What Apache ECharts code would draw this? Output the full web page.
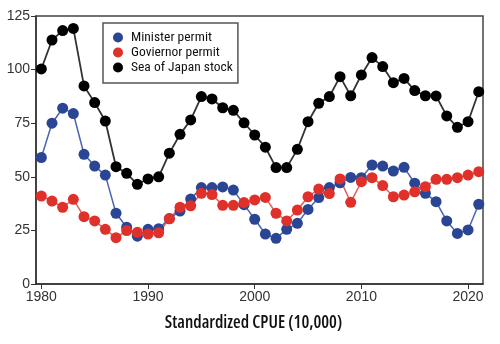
<!DOCTYPE html>
<html>
<head>
<meta charset="utf-8">
<script src="https://cdn.jsdelivr.net/npm/echarts@6/dist/echarts.min.js"></script>
<style>html,body{margin:0;padding:0;background:#fff;}#c{width:500px;height:344px;}</style>
</head>
<body>
<div id="c"></div>
<script>
const years = [];
for (let y = 1980; y <= 2021; y++) years.push(y);
const seriesNames = ['Minister permit', 'Goviernor permit', 'Sea of Japan stock'];
const minister = [59, 75, 82, 79.5, 60.5, 55, 50.8, 33, 26.5, 22.3, 25.5, 25.8, 30.5, 34, 39.6, 45, 45, 45.3, 43.8, 37,
  30.2, 23.3, 21.3, 25.5, 28.3, 34.8, 40.3, 45, 47.2, 49.7, 49.6, 55.5, 55, 52.7, 54.4, 47, 42.3, 38.4, 29.4, 23.6, 25.2, 37.2];
const governor = [41, 38.7, 35.8, 39.5, 31.4, 29.4, 25.5, 21.6, 24.9, 24.1, 23.3, 23.9, 30.4, 35.8, 36.5, 42.3, 41.7, 36.7, 36.7, 38,
  39.2, 40.4, 33, 29.4, 34.5, 40.7, 44.3, 42.2, 49, 38.1, 47.7, 49.6, 45.9, 40.7, 41.5, 43, 45.4, 48.8, 48.8, 49.6, 50.8, 52.4];
const seaOfJapan = [100.3, 113.8, 118.2, 119.2, 92.4, 84.6, 76, 54.7, 51.6, 46.5, 49, 50, 61, 69.8, 76.5, 87.4, 86.3, 82.2, 81, 75.2,
  69.5, 63.8, 54.3, 54.3, 62.8, 75.7, 84.3, 87.4, 96.7, 87.8, 97.5, 105.6, 101.4, 93.9, 95.9, 90.2, 87.8, 87.7, 78.4, 73.1, 75.7, 89.7];
const xTicks = [1980, 1990, 2000, 2010, 2020];
const yTicks = [0, 25, 50, 75, 100, 125];
const xTitle = 'Standardized CPUE (10,000)';

const pair = arr => arr.map((v, i) => [years[i], v]);
const chart = echarts.init(document.getElementById('c'), null, {renderer: 'canvas'});
const mk = (name, data, dot, line, lw, size) => ({
  name, type: 'line', data: pair(data), symbol: 'circle', symbolSize: size,
  itemStyle: {color: dot}, lineStyle: {color: line, width: lw},
  emphasis: {disabled: true}, animation: false
});
chart.setOption({
  animation: false,
  grid: {left: 36, right: 17, top: 16, bottom: 60, show: true, borderColor: '#444', borderWidth: 1.5, backgroundColor: 'transparent'},
  legend: {
    orient: 'vertical', left: 103, top: 23,
    data: seriesNames.map(n => ({name: n, icon: 'circle'})),
    itemWidth: 10, itemHeight: 10, itemGap: 0,
    padding: [7, 5, 8, 10],
    borderColor: '#555', borderWidth: 1.5, backgroundColor: '#fff',
    textStyle: {fontFamily: "'Roboto'", fontWeight: 'normal extra-condensed', fontSize: 13.5, lineHeight: 15, color: '#111', padding: [0, 0, 0, 3]},
    selectedMode: false
  },
  xAxis: {
    type: 'value', min: 1979.5, max: 2021.4,
    name: xTitle, nameLocation: 'middle', nameGap: 30,
    nameTextStyle: {fontFamily: "'Open Sans'", fontSize: 17.5, color: '#111', fontWeight: '600 extra-condensed', padding: [0, 12, 0, 0]},
    axisLine: {show: true, lineStyle: {color: '#333', width: 1.5}},
    axisTick: {show: true, customValues: xTicks, length: 5, lineStyle: {color: '#333'}},
    axisLabel: {customValues: xTicks, formatter: v => String(v), fontSize: 14, color: '#333', margin: 6, fontFamily: "'Liberation Sans', Arial, sans-serif"},
    splitLine: {show: false}
  },
  yAxis: {
    type: 'value', min: 0, max: 125, interval: 25,
    axisLine: {show: true, lineStyle: {color: '#333', width: 1.5}},
    axisTick: {show: true, length: 5, lineStyle: {color: '#333'}},
    axisLabel: {fontSize: 14, color: '#333', margin: 6, fontFamily: "'Liberation Sans', Arial, sans-serif"},
    splitLine: {show: false}
  },
  series: [
    mk(seriesNames[0], minister, '#2b4595', '#4a64b0', 1.5, 11),
    mk(seriesNames[1], governor, '#e0302a', '#e06055', 1.5, 11),
    mk(seriesNames[2], seaOfJapan, '#000000', '#333333', 1.8, 11)
  ]
});
</script>
</body>
</html>
